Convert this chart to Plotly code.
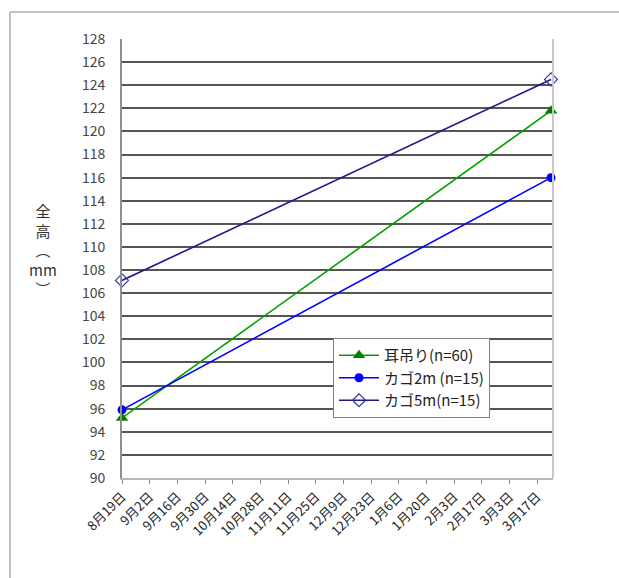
import plotly.graph_objects as go

# Measurement dates (start and end of the rearing period)
dates = ["2008-08-19", "2009-03-24"]

# Total height (mm) for each culture method
series_names = ["耳吊り(n=60)", "カゴ2m (n=15)", "カゴ5m(n=15)"]
mimitsuri = [95.2, 121.8]
kago2m = [95.9, 116.0]
kago5m = [107.1, 124.5]

y_ticks = list(range(90, 130, 2))

FONT = "Noto Sans CJK JP, Noto Sans, sans-serif"

fig = go.Figure()

fig.add_trace(go.Scatter(
    x=dates, y=mimitsuri, name=series_names[0], mode="lines+markers",
    line=dict(color="#00a000", width=1.6),
    marker=dict(symbol="triangle-up", size=11, color="#008000"),
    legendgroup="a", cliponaxis=False,
))
fig.add_trace(go.Scatter(
    x=dates, y=kago2m, name=series_names[1], mode="lines+markers",
    line=dict(color="#0000ff", width=1.6),
    marker=dict(symbol="circle", size=9, color="#0000ff"),
    legendgroup="b", cliponaxis=False,
))
fig.add_trace(go.Scatter(
    x=dates, y=kago5m, name=series_names[2], mode="lines+markers",
    line=dict(color="#1a1a8c", width=1.6),
    marker=dict(symbol="diamond-open", size=10, color="#3030a0",
                line=dict(width=1.2)),
    legendgroup="c", cliponaxis=False,
))

# Outer chart frame (left and top edges)
frame_x = (10 - 122) / 431
frame_y = (478 - 12) / 439
fig.add_shape(type="line", xref="paper", yref="paper",
              x0=frame_x, x1=frame_x, y0=-0.5, y1=frame_y,
              line=dict(color="#c0c0c0", width=2))
fig.add_shape(type="line", xref="paper", yref="paper",
              x0=frame_x, x1=1.3, y0=frame_y, y1=frame_y,
              line=dict(color="#c0c0c0", width=2))
# Right edge of the plot area
fig.add_shape(type="line", xref="paper", yref="paper",
              x0=1, x1=1, y0=0, y1=1,
              line=dict(color="#c8c8c8", width=2))

# Vertical axis title
fig.add_annotation(
    xref="paper", yref="paper", x=(43 - 122) / 431, y=(478 - 250) / 439,
    text="全<br>高<br>︵<br>mm<br>︶", showarrow=False,
    font=dict(family=FONT, size=15, color="#333333"),
    xanchor="center", yanchor="middle", align="center",
)

fig.update_layout(
    width=619, height=578,
    margin=dict(l=122, r=66, t=39, b=100),
    paper_bgcolor="white", plot_bgcolor="white",
    font=dict(family=FONT, size=12, color="#222222"),
    showlegend=True,
    legend=dict(
        x=(333 - 122) / 431, y=(478 - 338) / 439,
        xanchor="left", yanchor="top",
        bgcolor="white", bordercolor="#808080", borderwidth=1,
        font=dict(family=FONT, size=15, color="#222222"),
        tracegroupgap=0, traceorder="grouped", itemwidth=40,
    ),
    xaxis=dict(
        type="date",
        range=["2008-08-19", "2009-03-25"],
        tick0="2008-08-19", dtick=14 * 86400000,
        tickformat="%-m月%-d日", tickangle=-45,
        ticks="outside", ticklen=4, tickcolor="#888888",
        showgrid=False, showline=True, linecolor="#b8b8b8", linewidth=2,
        tickfont=dict(family=FONT, size=13, color="#222222"),
        zeroline=False,
    ),
    yaxis=dict(
        range=[90, 128], tickvals=y_ticks,
        ticktext=[str(v) for v in y_ticks],
        showgrid=True, gridcolor="#555555", gridwidth=1.5,
        showline=True, linecolor="#909090", linewidth=2,
        ticks="", ticklabelstandoff=12,
        tickfont=dict(family=FONT, size=14, color="#444444"),
        zeroline=False,
    ),
)

fig.write_html("out.html")
